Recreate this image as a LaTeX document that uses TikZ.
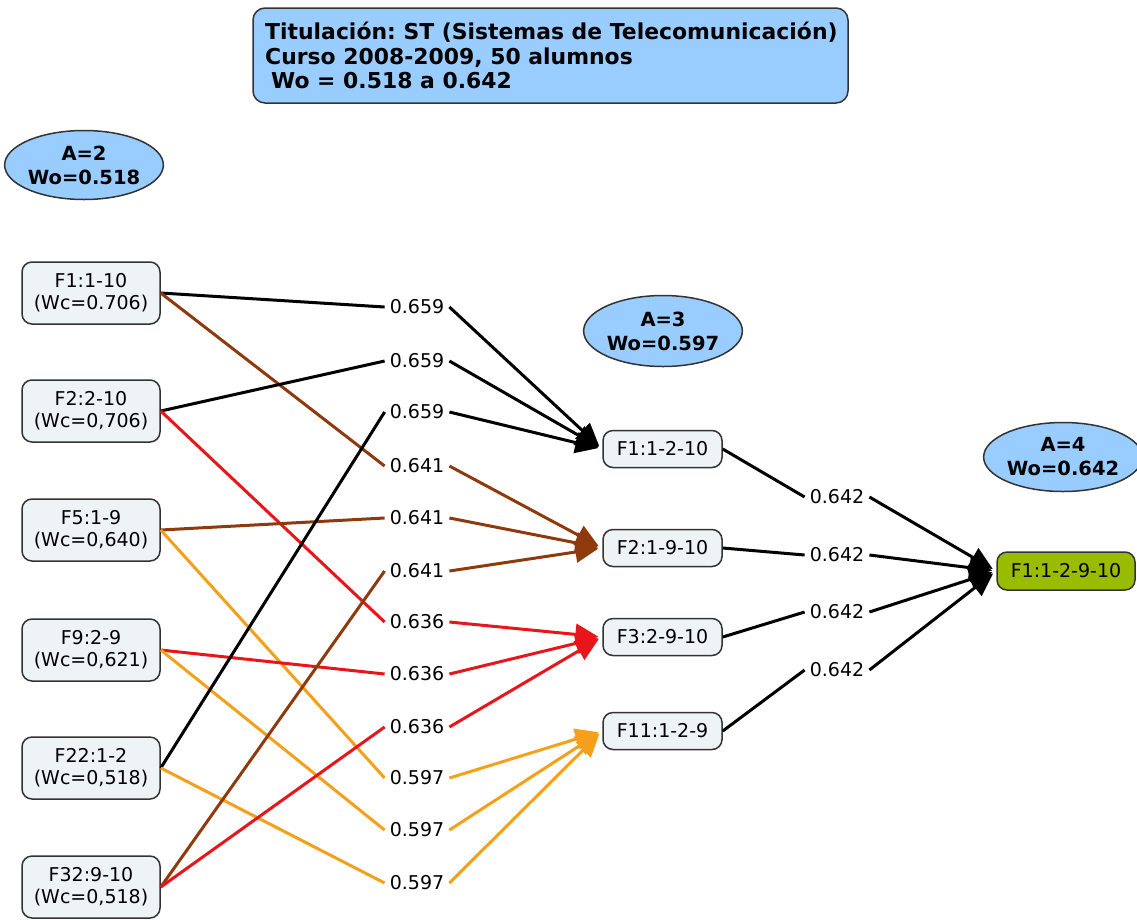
\documentclass[tikz,border=0pt]{standalone}
\usepackage{fontspec}
\setmainfont{DejaVu Sans}
\usetikzlibrary{arrows.meta,shapes.geometric}
\definecolor{boxfill}{HTML}{EEF3F6}
\definecolor{skyfill}{HTML}{99CCFF}
\definecolor{limefill}{HTML}{99BB00}
\definecolor{edgebrown}{HTML}{8E3A0C}
\definecolor{edgered}{HTML}{E8161A}
\definecolor{edgeorange}{HTML}{F5A01A}
\definecolor{outline}{HTML}{333333}
\frenchspacing
\begin{document}
\begin{tikzpicture}[x=1pt,y=-1pt,
  frag/.style={draw=outline, line width=1.5pt, rounded corners=10pt, fill=boxfill,
    align=center, font=\fontsize{19}{22}\selectfont, inner sep=0pt},
  leftbox/.style={frag, minimum width=138pt, minimum height=62pt},
  midbox/.style={frag, minimum width=119pt, minimum height=37pt},
  level/.style={ellipse, draw=outline, line width=1.5pt, fill=skyfill, align=center,
    inner sep=0pt, font=\bfseries\fontsize{19.5}{24}\selectfont},
  wlabel/.style={inner xsep=5pt, inner ysep=3pt, font=\fontsize{19}{22}\selectfont},
  link/.style={line width=3pt},
  tip/.style={-{Triangle[length=23pt,width=21pt]}, shorten >=4pt},
]
\useasboundingbox (0,0) rectangle (1137,919);

% header
\node[draw=outline, line width=1.5pt, rounded corners=12pt, fill=skyfill,
      minimum width=595pt, minimum height=95pt, inner sep=0pt] (title) at (550.5,55.5) {};
\node[anchor=west, inner sep=0pt, align=left,
      font=\bfseries\fontsize{21.9}{24.5}\selectfont] (titletext) at (265,55.5)
  {Titulación: ST (Sistemas de Telecomunicación)\\
   Curso 2008-2009, 50 alumnos\\
   \hspace*{6pt}Wo = 0.518 a 0.642};

% level ellipses
\node[level, minimum width=150pt, minimum height=69pt] (lv2) at (84,165) {A=2\\Wo=0.518};
\node[level, minimum width=148pt, minimum height=71pt] (lv3) at (663,331) {A=3\\Wo=0.597};
\node[level, minimum width=145pt, minimum height=69pt] (lv4) at (1063,457) {A=4\\Wo=0.642};

% starting fragments
\node[leftbox] (f1)  at (91,293) {F1:1-10\\(Wc=0.706)};
\node[leftbox] (f2)  at (91,411) {F2:2-10\\(Wc=0,706)};
\node[leftbox] (f5)  at (91,530) {F5:1-9\\(Wc=0,640)};
\node[leftbox] (f9)  at (91,650) {F9:2-9\\(Wc=0,621)};
\node[leftbox] (f22) at (91,768) {F22:1-2\\(Wc=0,518)};
\node[leftbox] (f32) at (91,887) {F32:9-10\\(Wc=0,518)};

% first-step weights
\node[wlabel] (a1) at (417,307) {0.659};
\node[wlabel] (a2) at (417,361) {0.659};
\node[wlabel] (a3) at (417,412) {0.659};
\node[wlabel] (b1) at (417,466) {0.641};
\node[wlabel] (b2) at (417,518) {0.641};
\node[wlabel] (b3) at (417,571) {0.641};
\node[wlabel] (c1) at (417,622) {0.636};
\node[wlabel] (c2) at (417,674) {0.636};
\node[wlabel] (c3) at (417,727) {0.636};
\node[wlabel] (d1) at (417,778) {0.597};
\node[wlabel] (d2) at (417,830) {0.597};
\node[wlabel] (d3) at (417,883) {0.597};

% merged fragments
\node[midbox] (m1) at (662.5,449) {F1:1-2-10};
\node[midbox] (m2) at (662.5,548) {F2:1-9-10};
\node[midbox] (m3) at (662.5,637) {F3:2-9-10};
\node[midbox] (m4) at (662.5,731) {F11:1-2-9};

% second-step weights
\node[wlabel] (r1) at (837,497) {0.642};
\node[wlabel] (r2) at (837,555) {0.642};
\node[wlabel] (r3) at (837,612) {0.642};
\node[wlabel] (r4) at (837,670) {0.642};

% final fragment
\node[frag, fill=limefill, minimum width=138pt, minimum height=38pt] (fin) at (1066,571) {F1:1-2-9-10};

% fragments to first-step weights
\draw[link, black]      (f1.east)  -- (a1.west);
\draw[link, edgebrown]  (f1.east)  -- (b1.west);
\draw[link, black]      (f2.east)  -- (a2.west);
\draw[link, edgered]    (f2.east)  -- (c1.west);
\draw[link, edgebrown]  (f5.east)  -- (b2.west);
\draw[link, edgeorange] (f5.east)  -- (d1.west);
\draw[link, edgered]    (f9.east)  -- (c2.west);
\draw[link, edgeorange] (f9.east)  -- (d2.west);
\draw[link, black]      (f22.east) -- (a3.west);
\draw[link, edgeorange] (f22.east) -- (d3.west);
\draw[link, edgebrown]  (f32.east) -- (b3.west);
\draw[link, edgered]    (f32.east) -- (c3.west);

% first-step weights to merged fragments
\foreach \w in {a1,a2,a3} \draw[link, tip, black]      (\w.east) -- (m1.west);
\foreach \w in {b1,b2,b3} \draw[link, tip, edgebrown]  (\w.east) -- (m2.west);
\foreach \w in {c1,c2,c3} \draw[link, tip, edgered]    (\w.east) -- (m3.west);
\foreach \w in {d1,d2,d3} \draw[link, tip, edgeorange] (\w.east) -- (m4.west);

% merged fragments to final fragment
\draw[link] (m1.east) -- (r1.west);
\draw[link] (m2.east) -- (r2.west);
\draw[link] (m3.east) -- (r3.west);
\draw[link] (m4.east) -- (r4.west);
\foreach \w in {r1,r2,r3,r4} \draw[link, tip] (\w.east) -- (fin.west);
\end{tikzpicture}
\end{document}
